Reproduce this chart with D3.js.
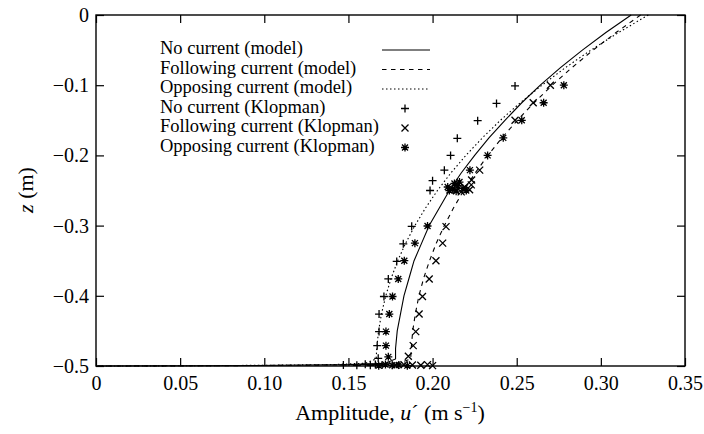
<!DOCTYPE html>
<html>
<head>
<meta charset="utf-8">
<script src="https://cdnjs.cloudflare.com/ajax/libs/d3/7.8.5/d3.min.js"></script>
<style>
  body { margin: 0; background: #fff; }
  svg text { font-family: "Liberation Serif", "Times New Roman", serif; fill: #000; }
</style>
</head>
<body>
<div id="chart"></div>
<script>
// depth levels (m) used for the model profiles
var zLevels = [0, -0.025, -0.05, -0.075, -0.1, -0.125, -0.15, -0.175, -0.2, -0.225, -0.25,
   -0.275, -0.3, -0.325, -0.35, -0.375, -0.4, -0.425, -0.45, -0.475, -0.49,
   -0.496, -0.498, -0.499, -0.4997, -0.5];

// model amplitudes u' (m/s) at those levels
var noCurrentModel = [0.318, 0.303, 0.289, 0.276, 0.264, 0.253, 0.243, 0.2335, 0.225, 0.217, 0.210,
   0.204, 0.198, 0.1935, 0.189, 0.186, 0.183, 0.181, 0.179, 0.178, 0.178,
   0.172, 0.150, 0.110, 0.060, 0];
var followingModel = [0.3236, 0.309, 0.2954, 0.2828, 0.2711, 0.2603, 0.2504, 0.2412, 0.2329, 0.2253, 0.2185,
   0.2124, 0.207, 0.2022, 0.1982, 0.1947, 0.1919, 0.1898, 0.1882, 0.1873, 0.187,
   0.180, 0.160, 0.120, 0.060, 0];
var opposingModel = [0.3282, 0.3105, 0.2941, 0.2789, 0.265, 0.2521, 0.2403, 0.2296, 0.2198, 0.2109, 0.2029,
   0.1958, 0.1895, 0.184, 0.1793, 0.1754, 0.1722, 0.1697, 0.1679, 0.1668, 0.1665,
   0.160, 0.140, 0.100, 0.050, 0];

// Klopman measurements [u', z]
var noCurrentData = [[0.249, -0.101], [0.238, -0.126], [0.2268, -0.1505], [0.2147, -0.1757],
   [0.2107, -0.200], [0.207, -0.221], [0.200, -0.236], [0.1985, -0.250],
   [0.1876, -0.301], [0.1826, -0.326], [0.1787, -0.351], [0.1737, -0.376],
   [0.1711, -0.401], [0.1682, -0.426], [0.1682, -0.451], [0.1671, -0.471], [0.1677, -0.489],
   [0.147, -0.4985], [0.155, -0.499], [0.160, -0.4975], [0.163, -0.499], [0.166, -0.498], [0.170, -0.4985]];
var followingData = [[0.270, -0.100], [0.2598, -0.125], [0.249, -0.150], [0.228, -0.221], [0.2232, -0.235],
   [0.214, -0.250], [0.219, -0.245], [0.222, -0.249], [0.217, -0.252], [0.223, -0.242],
   [0.208, -0.3015], [0.206, -0.325], [0.202, -0.350], [0.198, -0.376], [0.194, -0.401],
   [0.192, -0.426], [0.190, -0.451], [0.1885, -0.471], [0.1856, -0.486],
   [0.178, -0.499], [0.183, -0.498], [0.188, -0.4985], [0.193, -0.499], [0.197, -0.498], [0.200, -0.4995]];
var opposingData = [[0.278, -0.100], [0.266, -0.125], [0.253, -0.150], [0.242, -0.175], [0.2327, -0.200],
   [0.2222, -0.221], [0.209, -0.245], [0.212, -0.248], [0.215, -0.243], [0.218, -0.247], [0.210, -0.250],
   [0.214, -0.251], [0.220, -0.250], [0.216, -0.238], [0.213, -0.240],
   [0.197, -0.3006], [0.1895, -0.325], [0.1832, -0.350], [0.1796, -0.376], [0.1762, -0.401],
   [0.1743, -0.426], [0.1723, -0.451], [0.1723, -0.471], [0.1737, -0.487],
   [0.168, -0.4995], [0.172, -0.498], [0.176, -0.499], [0.180, -0.4985], [0.185, -0.4995]];

var xTicks = [0, 0.05, 0.10, 0.15, 0.20, 0.25, 0.30, 0.35];
var xTickLabels = ['0', '0.05', '0.10', '0.15', '0.20', '0.25', '0.30', '0.35'];
var yTicks = [0, -0.1, -0.2, -0.3, -0.4, -0.5];
var yTickLabels = ['0', '\u22120.1', '\u22120.2', '\u22120.3', '\u22120.4', '\u22120.5'];

var legendLabels = ['No current (model)', 'Following current (model)', 'Opposing current (model)',
   'No current (Klopman)', 'Following current (Klopman)', 'Opposing current (Klopman)'];

var width = 704, height = 434;
var plotLeft = 96, plotRight = 685, plotTop = 15, plotBottom = 366;

var x = d3.scaleLinear().domain([0, 0.35]).range([plotLeft, plotRight]);
var y = d3.scaleLinear().domain([-0.5, 0]).range([plotBottom, plotTop]);

var svg = d3.select('#chart').append('svg')
   .attr('width', width)
   .attr('height', height);

// marker shapes
var plusPath = 'M-4,0H4M0,-4V4';
var crossPath = 'M-3.5,-3.5L3.5,3.5M-3.5,3.5L3.5,-3.5';
var starPath = 'M-4,0H4M0,-4V4M-3,-3L3,3M-3,3L3,-3';

// axes with inward ticks on all four sides
var tickLen = 8;
svg.append('g')
   .attr('transform', 'translate(0,' + plotBottom + ')')
   .call(d3.axisBottom(x).tickValues(xTicks).tickSizeInner(-tickLen).tickSizeOuter(0)
      .tickPadding(10).tickFormat(function(d, i) { return xTickLabels[i]; }));
svg.append('g')
   .attr('transform', 'translate(0,' + plotTop + ')')
   .call(d3.axisTop(x).tickValues(xTicks).tickSizeInner(-tickLen).tickSizeOuter(0).tickFormat(''));
svg.append('g')
   .attr('transform', 'translate(' + plotLeft + ',0)')
   .call(d3.axisLeft(y).tickValues(yTicks).tickSizeInner(-tickLen).tickSizeOuter(0)
      .tickPadding(7).tickFormat(function(d, i) { return yTickLabels[i]; }));
svg.append('g')
   .attr('transform', 'translate(' + plotRight + ',0)')
   .call(d3.axisRight(y).tickValues(yTicks).tickSizeInner(-tickLen).tickSizeOuter(0).tickFormat(''));

svg.selectAll('.domain').remove();
svg.selectAll('.tick line').attr('stroke', '#000').attr('stroke-width', 1.2);
svg.selectAll('.tick text')
   .style('font-family', '"Liberation Serif", serif')
   .attr('font-size', 20)
   .attr('fill', '#000');

svg.append('rect')
   .attr('x', plotLeft)
   .attr('y', plotTop)
   .attr('width', plotRight - plotLeft)
   .attr('height', plotBottom - plotTop)
   .attr('fill', 'none')
   .attr('stroke', '#000')
   .attr('stroke-width', 1.4);

// model curves
var line = d3.line()
   .x(function(d) { return x(d[0]); })
   .y(function(d) { return y(d[1]); });

function profile(values) {
   return values.map(function(v, i) { return [v, zLevels[i]]; });
}

var curves = [
   { values: noCurrentModel, dash: null },
   { values: followingModel, dash: '4.5,4.5' },
   { values: opposingModel, dash: '1.5,2.5' }
];

curves.forEach(function(c) {
   svg.append('path')
      .attr('d', line(profile(c.values)))
      .attr('fill', 'none')
      .attr('stroke', '#000')
      .attr('stroke-width', 1.1)
      .attr('stroke-dasharray', c.dash);
});

// measurement markers
var markerSets = [
   { data: noCurrentData, shape: plusPath },
   { data: followingData, shape: crossPath },
   { data: opposingData, shape: starPath }
];

markerSets.forEach(function(m) {
   svg.append('g').selectAll('path')
      .data(m.data)
      .enter().append('path')
      .attr('transform', function(d) { return 'translate(' + x(d[0]) + ',' + y(d[1]) + ')'; })
      .attr('d', m.shape)
      .attr('fill', 'none')
      .attr('stroke', '#000')
      .attr('stroke-width', 1.3);
});

// legend
var legend = svg.append('g');
var rowY = [49, 68.5, 88, 107.5, 127, 146.5];
legendLabels.forEach(function(label, i) {
   legend.append('text')
      .attr('x', 160)
      .attr('y', rowY[i] + 5)
      .attr('font-size', 18.5)
      .text(label);
   if (i < 3) {
      legend.append('line')
         .attr('x1', 382).attr('x2', 430)
         .attr('y1', rowY[i] + 1).attr('y2', rowY[i] + 1)
         .attr('stroke', '#000')
         .attr('stroke-width', 1.1)
         .attr('stroke-dasharray', curves[i].dash);
   } else {
      legend.append('path')
         .attr('transform', 'translate(405,' + (rowY[i] + 1) + ')')
         .attr('d', markerSets[i - 3].shape)
         .attr('fill', 'none')
         .attr('stroke', '#000')
         .attr('stroke-width', 1.3);
   }
});

// axis titles
var xTitle = svg.append('text')
   .attr('x', 390)
   .attr('y', 420)
   .attr('text-anchor', 'middle')
   .attr('font-size', 22);
xTitle.append('tspan').text('Amplitude, ');
xTitle.append('tspan').attr('font-style', 'italic').text('u');
xTitle.append('tspan').text('\u00b4 (m s');
xTitle.append('tspan').attr('font-size', 14).attr('dy', -8).text('\u22121');
xTitle.append('tspan').attr('dy', 8).text(')');

var yTitle = svg.append('text')
   .attr('transform', 'translate(33,190) rotate(-90)')
   .attr('text-anchor', 'middle')
   .attr('font-size', 22);
yTitle.append('tspan').attr('font-style', 'italic').text('z');
yTitle.append('tspan').text(' (m)');
</script>
</body>
</html>
